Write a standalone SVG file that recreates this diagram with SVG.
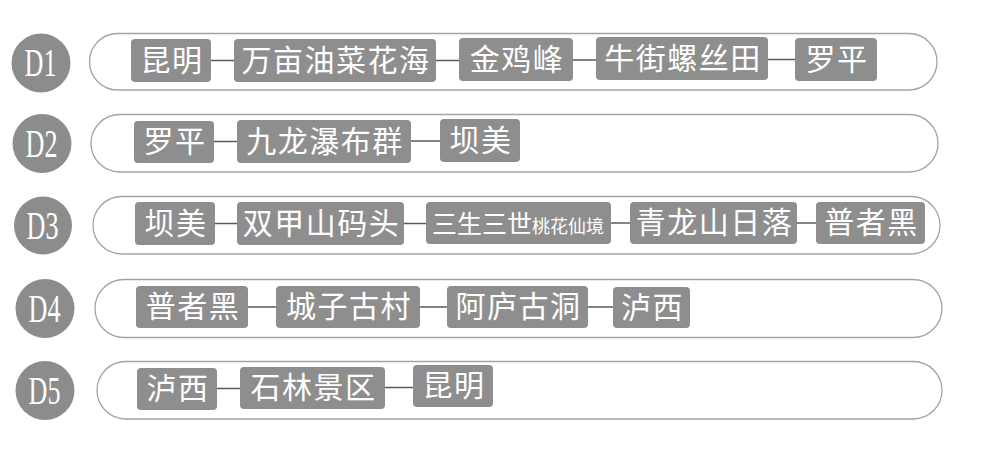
<svg xmlns="http://www.w3.org/2000/svg" width="1006" height="455" viewBox="0 0 1006 455">
<style>
.bg{fill:#ffffff}
.cap{fill:none;stroke:#a3a3a3;stroke-width:1.3}
.day{fill:#8c8c8c}
.dl{fill:#ffffff;font-family:"Liberation Serif","DejaVu Serif",serif;font-size:39px}
.box{fill:#8e8e8e}
.t{fill:#ffffff;font-family:"Noto Sans CJK SC","Noto Sans",sans-serif;font-size:30px;letter-spacing:1.5px;text-anchor:middle}
.ts{font-size:18px;letter-spacing:0px}
.tm{font-size:25px;letter-spacing:0px}
.conn line{stroke:#5a5a5a;stroke-width:1.5}
</style>
<rect class="bg" x="0" y="0" width="1006" height="455"/>

<g id="row-frames">
<rect class="cap" x="89.5" y="33.5" width="847.5" height="56.5" rx="28.25"/>
<rect class="cap" x="91" y="114.5" width="847" height="57.5" rx="28.75"/>
<rect class="cap" x="93" y="196.5" width="847" height="57.5" rx="28.75"/>
<rect class="cap" x="95" y="279.5" width="847" height="58" rx="29"/>
<rect class="cap" x="97" y="361.5" width="845" height="57.5" rx="28.75"/>
</g>

<g id="day-D1"><circle class="day" cx="41" cy="63" r="29.5"/><text class="dl" x="24.5" y="75.5" textLength="32" lengthAdjust="spacingAndGlyphs">D1</text></g>
<g id="day-D2"><circle class="day" cx="42" cy="143.5" r="29.5"/><text class="dl" x="25.5" y="156.5" textLength="32" lengthAdjust="spacingAndGlyphs">D2</text></g>
<g id="day-D3"><circle class="day" cx="43" cy="225.5" r="29"/><text class="dl" x="26.5" y="238.5" textLength="32" lengthAdjust="spacingAndGlyphs">D3</text></g>
<g id="day-D4"><circle class="day" cx="45" cy="308.5" r="29.5"/><text class="dl" x="28.5" y="321.5" textLength="32" lengthAdjust="spacingAndGlyphs">D4</text></g>
<g id="day-D5"><circle class="day" cx="45" cy="390.5" r="29.5"/><text class="dl" x="28.5" y="403.5" textLength="32" lengthAdjust="spacingAndGlyphs">D5</text></g>

<g id="connectors" class="conn">
<line x1="211" y1="60.5" x2="234" y2="60.5"/>
<line x1="436" y1="60.5" x2="459" y2="60.5"/>
<line x1="573" y1="60" x2="596" y2="60"/>
<line x1="768" y1="59.5" x2="795" y2="59.5"/>
<line x1="214" y1="141.5" x2="237" y2="141.5"/>
<line x1="411" y1="141" x2="440" y2="141"/>
<line x1="215" y1="223.5" x2="237" y2="223.5"/>
<line x1="404" y1="223.5" x2="426" y2="223.5"/>
<line x1="611" y1="223" x2="630" y2="223"/>
<line x1="797" y1="223" x2="816" y2="223"/>
<line x1="248" y1="307" x2="276" y2="307"/>
<line x1="420" y1="307" x2="447" y2="307"/>
<line x1="588" y1="307" x2="613" y2="307"/>
<line x1="217" y1="388.5" x2="240" y2="388.5"/>
<line x1="385" y1="387.5" x2="413" y2="387.5"/>
</g>

<g id="n1-kunming"><rect class="box" x="131" y="39" width="80" height="43" rx="4"/><text class="t" x="172" y="71">昆明</text></g>
<g id="n1-wanmu"><rect class="box" x="234" y="39" width="202" height="43" rx="4"/><text class="t" x="336" y="71">万亩油菜花海</text></g>
<g id="n1-jinjifeng"><rect class="box" x="459" y="38" width="114" height="43" rx="4"/><text class="t" x="517" y="70">金鸡峰</text></g>
<g id="n1-niujie"><rect class="box" x="596" y="37" width="172" height="43" rx="4"/><text class="t" x="683" y="69">牛街螺丝田</text></g>
<g id="n1-luoping"><rect class="box" x="795" y="38" width="82" height="43" rx="4"/><text class="t" x="837" y="70">罗平</text></g>

<g id="n2-luoping"><rect class="box" x="134" y="121" width="80" height="42" rx="4"/><text class="t" x="175" y="152">罗平</text></g>
<g id="n2-jiulong"><rect class="box" x="237" y="120" width="174" height="43" rx="4"/><text class="t" x="325" y="152">九龙瀑布群</text></g>
<g id="n2-bamei"><rect class="box" x="440" y="119" width="80" height="43" rx="4"/><text class="t" x="481" y="151">坝美</text></g>

<g id="n3-bamei"><rect class="box" x="135" y="202" width="80" height="43" rx="4"/><text class="t" x="176" y="234">坝美</text></g>
<g id="n3-shuangjia"><rect class="box" x="237" y="202" width="167" height="43" rx="4"/><text class="t" x="321.5" y="234">双甲山码头</text></g>
<g id="n3-sansheng"><rect class="box" x="426" y="202" width="185" height="42" rx="4"/><text class="t" x="518" y="233"><tspan class="tm">三生三世</tspan><tspan class="ts">桃花仙境</tspan></text></g>
<g id="n3-qinglong"><rect class="box" x="630" y="202" width="167" height="42" rx="4"/><text class="t" x="714.5" y="233">青龙山日落</text></g>
<g id="n3-puzhehei"><rect class="box" x="816" y="202" width="109" height="42" rx="4"/><text class="t" x="871.5" y="233">普者黑</text></g>

<g id="n4-puzhehei"><rect class="box" x="136" y="286" width="112" height="42" rx="4"/><text class="t" x="193" y="317">普者黑</text></g>
<g id="n4-chengzi"><rect class="box" x="276" y="286" width="144" height="42" rx="4"/><text class="t" x="349" y="317">城子古村</text></g>
<g id="n4-alu"><rect class="box" x="447" y="286" width="141" height="42" rx="4"/><text class="t" x="518.5" y="317">阿庐古洞</text></g>
<g id="n4-luxi"><rect class="box" x="613" y="287" width="77" height="41" rx="4"/><text class="t" x="652.5" y="318">泸西</text></g>

<g id="n5-luxi"><rect class="box" x="137" y="368" width="80" height="42" rx="4"/><text class="t" x="178" y="399">泸西</text></g>
<g id="n5-shilin"><rect class="box" x="240" y="367" width="145" height="42" rx="4"/><text class="t" x="313.5" y="398">石林景区</text></g>
<g id="n5-kunming"><rect class="box" x="413" y="365" width="80" height="42" rx="4"/><text class="t" x="454" y="396">昆明</text></g>
</svg>
